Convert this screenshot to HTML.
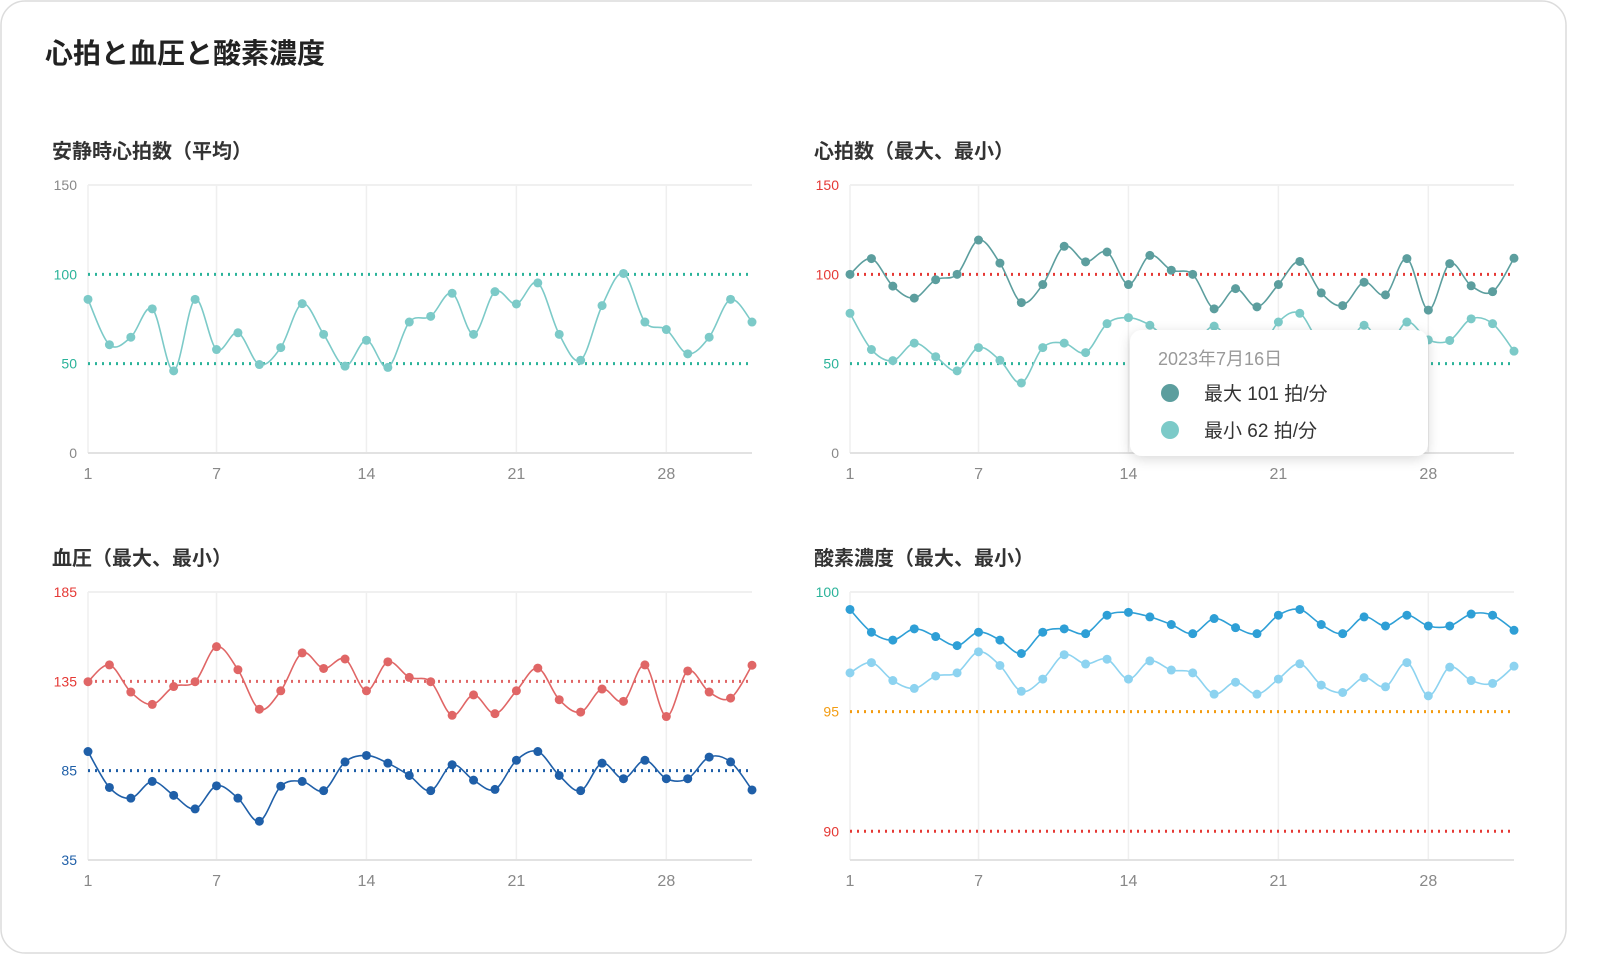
<!DOCTYPE html>
<html><head><meta charset="utf-8"><style>
html,body{margin:0;padding:0;background:#fff;}
svg{display:block;font-family:"Liberation Sans","Noto Sans CJK JP",sans-serif;}
</style></head><body>
<svg id="root" width="1604" height="977" viewBox="0 0 1604 977">
<defs><filter id="sh" x="-20%" y="-20%" width="140%" height="150%"><feDropShadow dx="0" dy="3" stdDeviation="6" flood-color="#000" flood-opacity="0.15"/></filter></defs>
<rect x="1" y="1" width="1565" height="952" rx="24" fill="#fff" stroke="#dcdcdc" stroke-width="1.5"/>
<text x="45" y="63" font-size="28" font-weight="bold" fill="#222">心拍と血圧と酸素濃度</text>
<text x="52" y="158" font-size="20" font-weight="bold" fill="#333">安静時心拍数（平均）</text>
<text x="814" y="158" font-size="20" font-weight="bold" fill="#333">心拍数（最大、最小）</text>
<text x="52" y="565" font-size="20" font-weight="bold" fill="#333">血圧（最大、最小）</text>
<text x="814" y="565" font-size="20" font-weight="bold" fill="#333">酸素濃度（最大、最小）</text>
<g id="charts"></g>
<g filter="url(#sh)"><rect x="1130" y="330" width="298" height="126" rx="12" fill="#fff"/></g>
<text x="1158" y="365" font-size="18" fill="#999">2023年7月16日</text>
<circle cx="1170" cy="393" r="9" fill="#5c9e9e"/>
<text x="1204" y="400" font-size="19" fill="#333">最大 101 拍/分</text>
<circle cx="1170" cy="430" r="9" fill="#7ccac8"/>
<text x="1204" y="437" font-size="19" fill="#333">最小 62 拍/分</text>
</svg>
<script>
const xTicks = [1, 7, 14, 21, 28];
const restAvg = [86,60.6,64.8,80.7,46,86,57.9,67.3,49.5,59,83.6,66.4,48.6,63.1,47.9,73.3,76.5,89.4,66.4,90.3,83.4,95.2,66.4,51.9,82.5,100.5,73.3,69.1,55.5,64.8,86,73.3];
const hrMax = [100,108.8,93.4,86.7,97,100,119.2,106.3,84.2,94.3,115.7,107,112.5,94.3,110.6,102.3,100,80.7,92,81.8,94.3,107.2,89.6,82.5,95.6,88.5,108.8,80,106,93.6,90.3,109];
const hrMin = [78.2,57.9,51.7,61.5,53.9,46,59,51.9,39.2,59,61.5,56.2,72.4,75.8,71.5,62,60,71,58,55,73.3,78.2,60,56,71.5,58,73.3,63.3,63,75.1,72.4,57];
const bpMax = [134.8,144.2,129,122.1,132.1,134.8,154.4,141.5,119.4,129.7,150.9,142.2,147.5,129.7,145.9,137.2,134.8,116,127.4,116.9,129.7,142.4,124.7,117.8,130.7,123.8,144.2,115.3,140.8,129,125.6,144];
const bpMin = [95.7,75.6,69.6,79,71.2,63.6,76.5,69.6,56.7,76.3,79,73.8,89.9,93.5,89.2,82.3,73.8,88.3,79.7,74.5,90.8,95.7,82.3,73.8,89.2,80.5,90.8,80.5,80.5,92.6,89.9,74.2];
const o2Max = [99.27,98.32,97.99,98.46,98.14,97.76,98.32,97.99,97.43,98.32,98.46,98.26,99.03,99.15,98.96,98.64,98.26,98.89,98.51,98.26,99.03,99.27,98.64,98.26,98.96,98.58,99.03,98.58,98.58,99.08,99.03,98.4];
const o2Min = [96.62,97.05,96.3,95.97,96.49,96.62,97.5,96.93,95.85,96.36,97.38,96.99,97.19,96.36,97.12,96.74,96.62,95.73,96.23,95.73,96.36,97,96.11,95.8,96.42,96.04,97.05,95.66,96.86,96.3,96.18,96.9];

const NS = "http://www.w3.org/2000/svg";
const G = document.getElementById('charts');
function mk(tag, attrs, parent){const e=document.createElementNS(NS,tag);for(const k in attrs)e.setAttribute(k,attrs[k]);(parent||G).appendChild(e);return e;}
function smooth(pts){
  let d="M"+pts[0][0]+","+pts[0][1];
  for(let i=0;i<pts.length-1;i++){
    const p0=pts[i-1]||pts[i],p1=pts[i],p2=pts[i+1],p3=pts[i+2]||p2;
    const t=0.5/3;
    d+=" C"+(p1[0]+(p2[0]-p0[0])*t)+","+(p1[1]+(p2[1]-p0[1])*t)+" "+(p2[0]-(p3[0]-p1[0])*t)+","+(p2[1]-(p3[1]-p1[1])*t)+" "+p2[0]+","+p2[1];
  }
  return d;
}
function chart(c){
  const x0=c.x, x1=c.x+664, y0=c.y, y1=c.y+268;
  const n=32;
  const xs=i=>x0+(x1-x0)*i/(n-1);
  const ys=v=>y1-(v-c.min)/(c.max-c.min)*(y1-y0);
  const g=mk('g',{});
  
  
  mk('line',{x1:x0,x2:x1,y1:y0,y2:y0,stroke:'#ececec','stroke-width':1.5},g);
  xTicks.forEach(t=>{
    const gl=mk('line',{x1:xs(t-1),x2:xs(t-1),y1:y0,y2:y1,stroke:'#efefef','stroke-width':1.5},g);
    
    
    const tl=mk('text',{x:xs(t-1),y:y1+26,'font-size':16,fill:'#888','text-anchor':'middle'},g);
    tl.textContent=t;
    
    
  });
  mk('line',{x1:x0,x2:x1,y1:y1,y2:y1,stroke:'#e2e2e2','stroke-width':2},g);
  c.yTicks.forEach((t,i)=>{
    const tl=mk('text',{x:x0-11,y:ys(t)+5,'font-size':14,fill:c.yColors[i],'text-anchor':'end'},g);
    tl.textContent=t;
    
    
  });
  c.refs.forEach(r=>{
    const l=mk('line',{x1:x0,x2:x1,y1:ys(r[0]),y2:ys(r[0]),stroke:r[1],'stroke-width':3,'stroke-dasharray':'2 5','stroke-linecap':'butt'},g);
    
    
  });
  c.series.forEach(s=>{
    const pts=s.data.map((v,i)=>[xs(i),ys(v)]);
    const p=mk('path',{d:smooth(pts),fill:'none',stroke:s.color,'stroke-width':1.6},g);
    
    
    pts.forEach(q=>{
      const d=mk('circle',{cx:q[0],cy:q[1],r:4.5,fill:s.color},g);
      
      
    });
  });
}
chart({name:'resting-hr-chart',x:88,y:185,min:0,max:150,yTicks:[150,100,50,0],yColors:['#888','#2bb39a','#2bb39a','#888'],
  refs:[[100,'#2bb39a'],[50,'#2bb39a']],series:[{name:'resting-hr',data:restAvg,color:'#7ccac8'}]});
chart({name:'hr-chart',x:850,y:185,min:0,max:150,yTicks:[150,100,50,0],yColors:['#e53935','#e53935','#2bb39a','#888'],
  refs:[[100,'#e53935'],[50,'#2bb39a']],series:[{name:'hr-max',data:hrMax,color:'#5c9e9e'},{name:'hr-min',data:hrMin,color:'#7ccac8'}]});
chart({name:'bp-chart',x:88,y:592,min:35,max:185,yTicks:[185,135,85,35],yColors:['#e53935','#e53935','#1f5fa8','#1f5fa8'],
  refs:[[135,'#e06666'],[85,'#1f5fa8']],series:[{name:'bp-max',data:bpMax,color:'#e06666'},{name:'bp-min',data:bpMin,color:'#1f5fa8'}]});
chart({name:'o2-chart',x:850,y:592,min:88.8,max:100,yTicks:[100,95,90],yColors:['#2bb39a','#f39c12','#e53935'],
  refs:[[95,'#f39c12'],[90,'#e53935']],series:[{name:'o2-max',data:o2Max,color:'#2e9fd6'},{name:'o2-min',data:o2Min,color:'#8dd3f0'}]});
</script>
</body></html>
